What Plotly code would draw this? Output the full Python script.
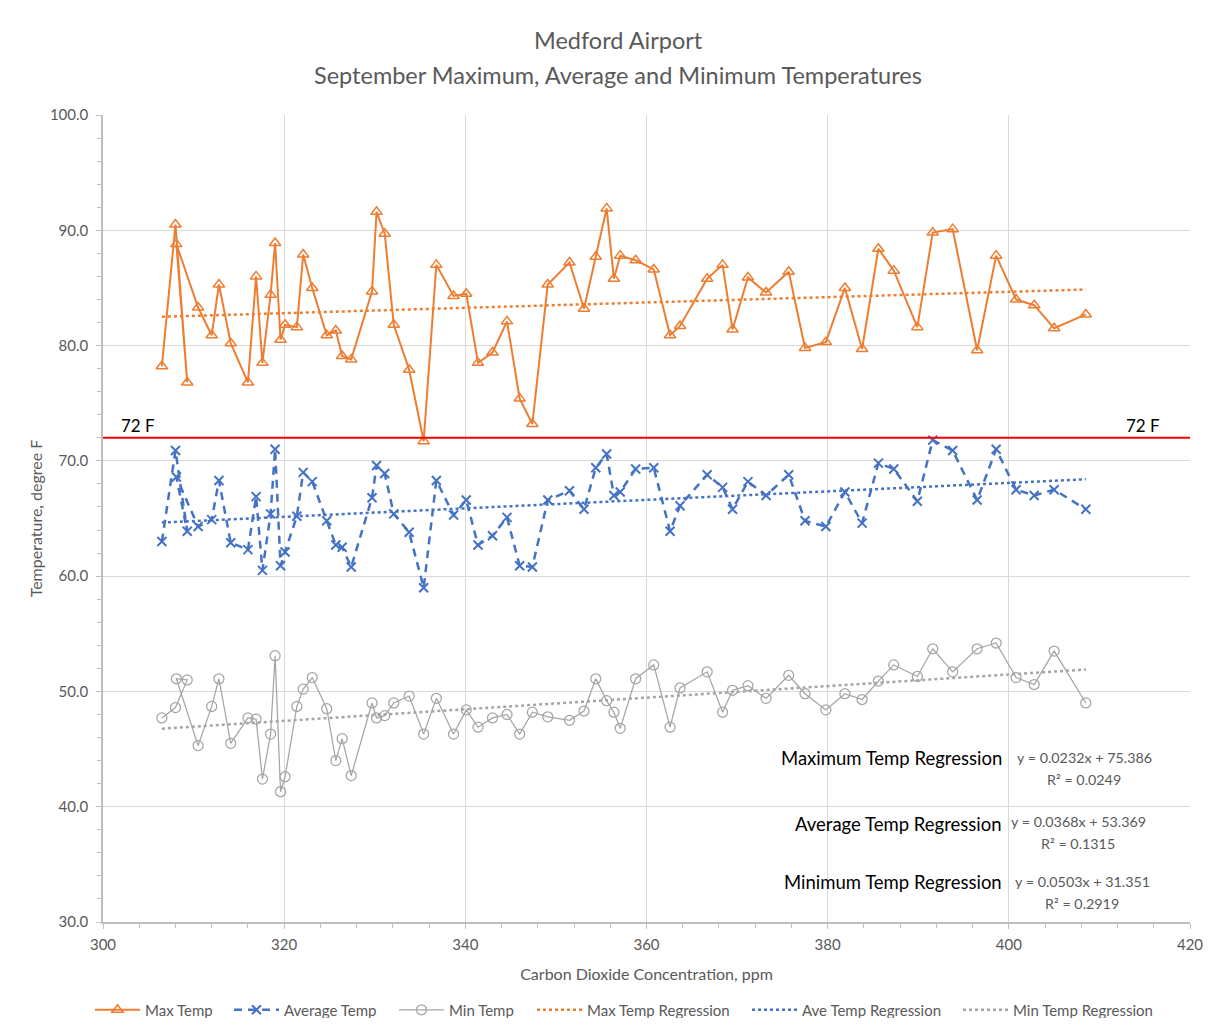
import plotly.graph_objects as go

# ---------------- data (in year order) ----------------
co2_ppm = [306.5, 308.0, 309.3, 308.1, 310.5, 312.0, 312.8, 314.1, 316.0, 316.9,
           317.6, 318.5, 319.0, 319.6, 320.1, 321.4, 322.1, 323.1, 324.7, 325.7,
           326.4, 327.4, 329.7, 330.2, 331.1, 332.1, 333.8, 335.4, 336.8, 338.7,
           340.1, 341.4, 343.0, 344.6, 346.0, 347.4, 349.1, 351.5, 353.1, 354.4,
           355.6, 356.4, 357.1, 358.8, 360.8, 362.6, 363.7, 366.7, 368.4, 369.5,
           371.2, 373.2, 375.7, 377.5, 379.8, 381.9, 383.8, 385.6, 387.3, 389.9,
           391.6, 393.8, 396.5, 398.6, 400.8, 402.8, 405.0, 408.5]

max_temp = [78.2, 90.5, 76.8, 88.8, 83.3, 80.9, 85.3, 80.2, 76.8, 86.0,
            78.5, 84.4, 88.9, 80.5, 81.8, 81.6, 87.9, 85.0, 80.9, 81.3,
            79.1, 78.8, 84.7, 91.6, 89.7, 81.8, 77.9, 71.7, 87.0, 84.3,
            84.5, 78.5, 79.4, 82.1, 75.4, 73.2, 85.3, 87.2, 83.2, 87.7,
            91.9, 85.8, 87.8, 87.4, 86.6, 80.9, 81.7, 85.8, 87.0, 81.4,
            85.9, 84.6, 86.4, 79.8, 80.3, 85.0, 79.7, 88.4, 86.5, 81.6,
            89.8, 90.1, 79.6, 87.8, 84.0, 83.5, 81.5, 82.7]

avg_temp = [63.0, 70.9, 63.9, 68.6, 64.3, 64.9, 68.3, 62.9, 62.3, 66.9,
            60.5, 65.4, 71.0, 60.9, 62.1, 65.2, 69.0, 68.2, 64.8, 62.7,
            62.5, 60.8, 66.8, 69.6, 68.9, 65.4, 63.8, 59.0, 68.3, 65.3,
            66.6, 62.7, 63.5, 65.1, 60.9, 60.8, 66.6, 67.4, 65.8, 69.4,
            70.6, 67.0, 67.3, 69.3, 69.4, 63.9, 66.1, 68.8, 67.7, 65.8,
            68.2, 67.0, 68.8, 64.8, 64.3, 67.3, 64.6, 69.8, 69.3, 66.5,
            71.8, 70.9, 66.6, 71.0, 67.5, 67.0, 67.5, 65.8]

min_temp = [47.7, 48.6, 51.0, 51.1, 45.3, 48.7, 51.1, 45.5, 47.7, 47.6,
            42.4, 46.3, 53.1, 41.3, 42.6, 48.7, 50.2, 51.2, 48.5, 44.0,
            45.9, 42.7, 49.0, 47.7, 47.9, 49.0, 49.6, 46.3, 49.4, 46.3,
            48.4, 46.9, 47.7, 48.0, 46.3, 48.2, 47.8, 47.5, 48.3, 51.1,
            49.2, 48.2, 46.8, 51.1, 52.3, 46.9, 50.3, 51.7, 48.2, 50.1,
            50.5, 49.4, 51.4, 49.8, 48.4, 49.8, 49.3, 50.9, 52.3, 51.3,
            53.7, 51.7, 53.7, 54.2, 51.2, 50.6, 53.5, 49.0]

# regression coefficients as printed on the chart
reg_names = ["Max Temp Regression", "Ave Temp Regression", "Min Temp Regression"]
reg_labels = ["Maximum Temp Regression", "Average Temp Regression", "Minimum Temp Regression"]
reg_slope = [0.0232, 0.0368, 0.0503]
reg_intercept = [75.386, 53.369, 31.351]
reg_r2 = ["0.0249", "0.1315", "0.2919"]

threshold = 72
threshold_label = "72 F"

title_lines = ["Medford Airport", "September Maximum, Average and Minimum Temperatures"]

# ---------------- styling ----------------
ORANGE = "#ED7D31"
BLUE = "#4472C4"
GRAY = "#A5A5A5"
TXT = "#595959"
FONT = "Lato"

# page body has an 8px margin; plot area in screen px is 103..1190 x 115..922
OFF = 8
W, H = 1196, 1010
L, T = 103 - OFF, 115 - OFF
PR, PB = 1190 - OFF, 922 - OFF
R, B = W - PR, H - PB
pw, ph = PR - L, PB - T


def sx(px):  # screen px -> paper x
    return (px - OFF - L) / pw


def sy(py):  # screen px -> paper y
    return (PB - (py - OFF)) / ph


fig = go.Figure()

fig.add_trace(go.Scatter(
    x=co2_ppm, y=max_temp, mode="lines+markers", name="Max Temp", legend="legend",
    line=dict(color=ORANGE, width=2),
    marker=dict(symbol="triangle-up-open", size=10, color=ORANGE, line=dict(width=1.5, color=ORANGE))))
fig.add_trace(go.Scatter(
    x=co2_ppm, y=avg_temp, mode="lines+markers", name="Average Temp", legend="legend2",
    line=dict(color=BLUE, width=2.5, dash="8px,6px"),
    marker=dict(symbol="x-thin-open", size=9, color=BLUE, line=dict(width=2, color=BLUE))))
fig.add_trace(go.Scatter(
    x=co2_ppm, y=min_temp, mode="lines+markers", name="Min Temp", legend="legend3",
    line=dict(color=GRAY, width=1.25),
    marker=dict(symbol="circle-open", size=10, color=GRAY, line=dict(width=1.25, color=GRAY))))

x_lo, x_hi = min(co2_ppm), max(co2_ppm)
for i, (name, m, b, col) in enumerate(zip(reg_names, reg_slope, reg_intercept, [ORANGE, BLUE, GRAY])):
    fig.add_trace(go.Scatter(
        x=[x_lo, x_hi], y=[m * x_lo + b, m * x_hi + b], mode="lines", name=name,
        legend=f"legend{i + 4}",
        line=dict(color=col, width=2.5, dash="dot")))

# 72 F threshold line
fig.add_shape(type="line", xref="paper", yref="y", x0=0, x1=1, y0=threshold, y1=threshold,
              line=dict(color="#FF0000", width=2))

annotations = [
    dict(xref="paper", yref="y", x=sx(119), y=threshold, yanchor="bottom", xanchor="left",
         text=threshold_label, showarrow=False, font=dict(family=FONT, size=17, color="#000000")),
    dict(xref="paper", yref="y", x=sx(1162), y=threshold, yanchor="bottom", xanchor="right",
         text=threshold_label, showarrow=False, font=dict(family=FONT, size=17, color="#000000")),
]

# title lines
for txt, py in zip(title_lines, [40, 75]):
    annotations.append(dict(xref="paper", yref="paper", x=sx(618), y=sy(py), xanchor="center",
                            yanchor="middle", showarrow=False, text=txt,
                            font=dict(family=FONT, size=23.5, color=TXT)))

# regression labels
label_py = [758, 824, 882]
eq_py = [757, 821, 881]
eq_px = [1084, 1078, 1082]
for lab, m, b, r2, py, epy, epx in zip(reg_labels, reg_slope, reg_intercept, reg_r2,
                                      label_py, eq_py, eq_px):
    annotations.append(dict(
        xref="paper", yref="paper", x=sx(1004), y=sy(py),
        xanchor="right", yanchor="middle", showarrow=False, text=lab,
        font=dict(family=FONT, size=18.5, color="#000000")))
    annotations.append(dict(
        xref="paper", yref="paper", x=sx(epx), y=sy(epy),
        xanchor="center", yanchor="middle", showarrow=False, text=f"y = {m}x + {b}",
        font=dict(family=FONT, size=14.3, color=TXT)))
    annotations.append(dict(
        xref="paper", yref="paper", x=sx(epx), y=sy(epy + 22),
        xanchor="center", yanchor="middle", showarrow=False, text=f"R² = {r2}",
        font=dict(family=FONT, size=14.3, color=TXT)))

# one legend per entry to reproduce the spread-out legend row
legend_text_x = [145, 284, 449, 587, 802, 1013]
K = 55
legend_cfg = {}
for i, tx in enumerate(legend_text_x):
    key = "legend" if i == 0 else f"legend{i + 1}"
    legend_cfg[key] = dict(orientation="h", x=sx(tx - K), xanchor="left", y=sy(1010),
                           yanchor="middle", itemwidth=45,
                           font=dict(family=FONT, size=15, color=TXT),
                           bgcolor="rgba(0,0,0,0)")

fig.update_layout(
    width=W, height=H,
    margin=dict(l=L, r=R, t=T, b=B, autoexpand=False),
    paper_bgcolor="white", plot_bgcolor="white",
    font=dict(family=FONT, color=TXT),
    showlegend=True,
    annotations=annotations,
    **legend_cfg,
)

fig.update_xaxes(
    range=[300, 420], dtick=20, tick0=300, tickformat="d",
    showgrid=True, gridcolor="#D9D9D9", gridwidth=1,
    showline=True, linecolor="#BFBFBF", linewidth=1.5,
    ticks="outside", ticklen=5, tickcolor="#BFBFBF", ticklabelstandoff=3,
    minor=dict(dtick=4, ticks="outside", ticklen=4, tickcolor="#BFBFBF", showgrid=False),
    tickfont=dict(family=FONT, size=15, color=TXT),
    title=dict(text="Carbon Dioxide Concentration, ppm", font=dict(family=FONT, size=16, color=TXT),
               standoff=17),
    zeroline=False, automargin=False,
)
fig.update_yaxes(
    range=[30, 100], dtick=10, tick0=30, tickformat=".1f",
    showgrid=True, gridcolor="#D9D9D9", gridwidth=1,
    showline=True, linecolor="#BFBFBF", linewidth=1.5,
    ticks="outside", ticklen=5, tickcolor="#BFBFBF", ticklabelstandoff=5,
    minor=dict(dtick=2, ticks="outside", ticklen=4, tickcolor="#BFBFBF", showgrid=False),
    tickfont=dict(family=FONT, size=15, color=TXT),
    title=dict(text="Temperature, degree F", font=dict(family=FONT, size=16, color=TXT),
               standoff=3),
    zeroline=False, automargin=False,
)

fig.write_html("out.html")
